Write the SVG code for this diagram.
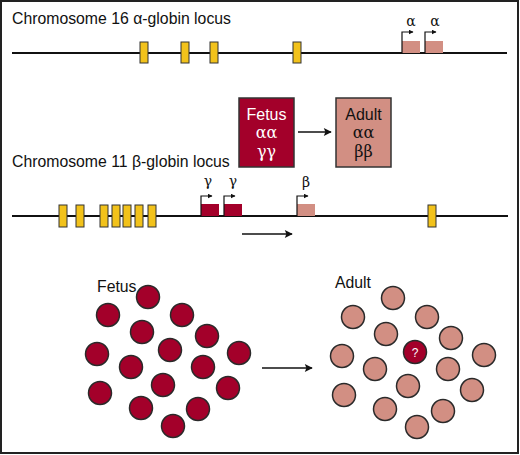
<svg xmlns="http://www.w3.org/2000/svg" width="520" height="455" viewBox="0 0 520 455">
<defs>
<marker id="ah" viewBox="0 0 10 10" refX="9" refY="5" markerWidth="5" markerHeight="5" orient="auto" markerUnits="userSpaceOnUse"><path d="M0,0 L10,5 L0,10 z" fill="#111"/></marker>
<marker id="ahL" viewBox="0 0 10 10" refX="9" refY="5" markerWidth="9" markerHeight="8" orient="auto" markerUnits="userSpaceOnUse"><path d="M0,0 L10,5 L0,10 L2,5 z" fill="#111"/></marker>
</defs>
<style>
.t{font-family:"Liberation Sans","DejaVu Sans",sans-serif;font-size:15.8px;fill:#111}
.g{font-family:"DejaVu Serif","Liberation Serif",serif;font-size:14px;fill:#111;text-anchor:middle}
.chr{stroke:#111;stroke-width:2;fill:none}
.y{fill:#f2c21b;stroke:#333;stroke-width:1}
.red{fill:#a3002a}
.pink{fill:#d28f83}
.prom{stroke:#111;stroke-width:1.2;fill:none}
.conn{stroke:#111;stroke-width:1.4;fill:none}
.cf{fill:#a3002a;stroke:#2a2a2a;stroke-width:1.5}
.ca{fill:#d28f83;stroke:#2a2a2a;stroke-width:1.5}
.box{stroke:#333;stroke-width:1.5}
.bt{font-family:"Liberation Sans","DejaVu Sans",sans-serif;font-size:16px;text-anchor:middle}
.bg{font-family:"DejaVu Serif","Liberation Serif",serif;font-size:16px;text-anchor:middle}
</style>
<rect x="1" y="1" width="517" height="452" fill="#fff" stroke="#222" stroke-width="2"/>

<g id="chr16">
<text class="t" x="12" y="24">Chromosome 16 α-globin locus</text>
<line class="chr" x1="12" y1="53" x2="507" y2="53"/>
<rect class="y" x="140" y="42" width="8" height="21"/>
<rect class="y" x="181" y="42" width="8" height="21"/>
<rect class="y" x="210" y="42" width="8" height="21"/>
<rect class="y" x="293" y="42" width="8" height="21"/>
<rect class="pink" x="402" y="41" width="18" height="12"/>
<rect class="pink" x="425" y="41" width="18" height="12"/>
<path class="prom" d="M402,53 V32 H413" marker-end="url(#ah)"/>
<path class="prom" d="M425,53 V32 H436" marker-end="url(#ah)"/>
<text class="g" x="411" y="26" fill="#111">α</text>
<text class="g" x="435" y="26" fill="#111">α</text>
</g>

<g id="chr11">
<text class="t" x="12" y="167">Chromosome 11 β-globin locus</text>
<line class="chr" x1="12" y1="216" x2="508" y2="216"/>
<rect class="y" x="59" y="205" width="8" height="22"/>
<rect class="y" x="76" y="205" width="8" height="22"/>
<rect class="y" x="100" y="205" width="8" height="22"/>
<rect class="y" x="112" y="205" width="8" height="22"/>
<rect class="y" x="123" y="205" width="8" height="22"/>
<rect class="y" x="135" y="205" width="8" height="22"/>
<rect class="y" x="148" y="205" width="8" height="22"/>
<rect class="y" x="428" y="205" width="8" height="22"/>
<rect class="red" x="201" y="204" width="18" height="12"/>
<rect class="red" x="224" y="204" width="18" height="12"/>
<rect class="pink" x="297" y="204" width="18" height="12"/>
<path class="prom" d="M201,216 V196 H212" marker-end="url(#ah)"/>
<path class="prom" d="M224,216 V196 H235" marker-end="url(#ah)"/>
<path class="prom" d="M297,216 V196 H308" marker-end="url(#ah)"/>
<text class="g" x="208" y="186" fill="#111">γ</text>
<text class="g" x="233" y="186" fill="#111">γ</text>
<text class="g" x="306" y="187" fill="#111">β</text>
</g>

<g id="fetusBox">
<rect class="red box" x="239" y="98" width="55" height="69"/>
<text class="bt" x="266.5" y="120" fill="#fff">Fetus</text>
<text class="bg" x="266.5" y="138" fill="#fff">αα</text>
<text class="bg" x="266.5" y="157" fill="#fff">γγ</text>
</g>
<g id="adultBox">
<rect class="pink box" x="336" y="98" width="55" height="69"/>
<text class="bt" x="363.5" y="120" fill="#111">Adult</text>
<text class="bg" x="363.5" y="138" fill="#111">αα</text>
<text class="bg" x="363.5" y="157" fill="#111">ββ</text>
</g>

<g id="fetusCells">
<text class="t" x="97" y="292">Fetus</text>
<circle class="cf" cx="148" cy="297" r="11.5"/>
<circle class="cf" cx="108" cy="315" r="11.5"/>
<circle class="cf" cx="182" cy="315" r="11.5"/>
<circle class="cf" cx="142" cy="332" r="11.5"/>
<circle class="cf" cx="207" cy="336" r="11.5"/>
<circle class="cf" cx="97" cy="354" r="11.5"/>
<circle class="cf" cx="170" cy="350" r="11.5"/>
<circle class="cf" cx="239" cy="353" r="11.5"/>
<circle class="cf" cx="131" cy="367" r="11.5"/>
<circle class="cf" cx="203" cy="367" r="11.5"/>
<circle class="cf" cx="163" cy="385" r="11.5"/>
<circle class="cf" cx="100" cy="393" r="11.5"/>
<circle class="cf" cx="228" cy="388" r="11.5"/>
<circle class="cf" cx="141" cy="408" r="11.5"/>
<circle class="cf" cx="198" cy="409" r="11.5"/>
<circle class="cf" cx="173" cy="426" r="11.5"/>
</g>

<g id="adultCells">
<text class="t" x="335" y="288">Adult</text>
<circle class="ca" cx="393" cy="298" r="11.5"/>
<circle class="ca" cx="353" cy="317" r="11.5"/>
<circle class="ca" cx="427" cy="317" r="11.5"/>
<circle class="ca" cx="386" cy="334" r="11.5"/>
<circle class="ca" cx="451" cy="338" r="11.5"/>
<circle class="ca" cx="342" cy="356" r="11.5"/>
<circle class="cf" cx="415" cy="352" r="11.5"/>
<text x="415" y="357" text-anchor="middle" font-family="Liberation Sans, DejaVu Sans, sans-serif" font-size="12" fill="#fff">?</text>
<circle class="ca" cx="484" cy="355" r="11.5"/>
<circle class="ca" cx="375" cy="369" r="11.5"/>
<circle class="ca" cx="448" cy="369" r="11.5"/>
<circle class="ca" cx="408" cy="386" r="11.5"/>
<circle class="ca" cx="344" cy="395" r="11.5"/>
<circle class="ca" cx="472" cy="390" r="11.5"/>
<circle class="ca" cx="385" cy="409" r="11.5"/>
<circle class="ca" cx="443" cy="411" r="11.5"/>
<circle class="ca" cx="417" cy="427" r="11.5"/>
</g>

<g id="connectors">
<line class="conn" x1="298" y1="132" x2="331" y2="132" marker-end="url(#ahL)"/>
<line class="conn" x1="242" y1="234" x2="292" y2="234" marker-end="url(#ahL)"/>
<line class="conn" x1="262" y1="368" x2="312" y2="368" marker-end="url(#ahL)"/>
</g>
</svg>
